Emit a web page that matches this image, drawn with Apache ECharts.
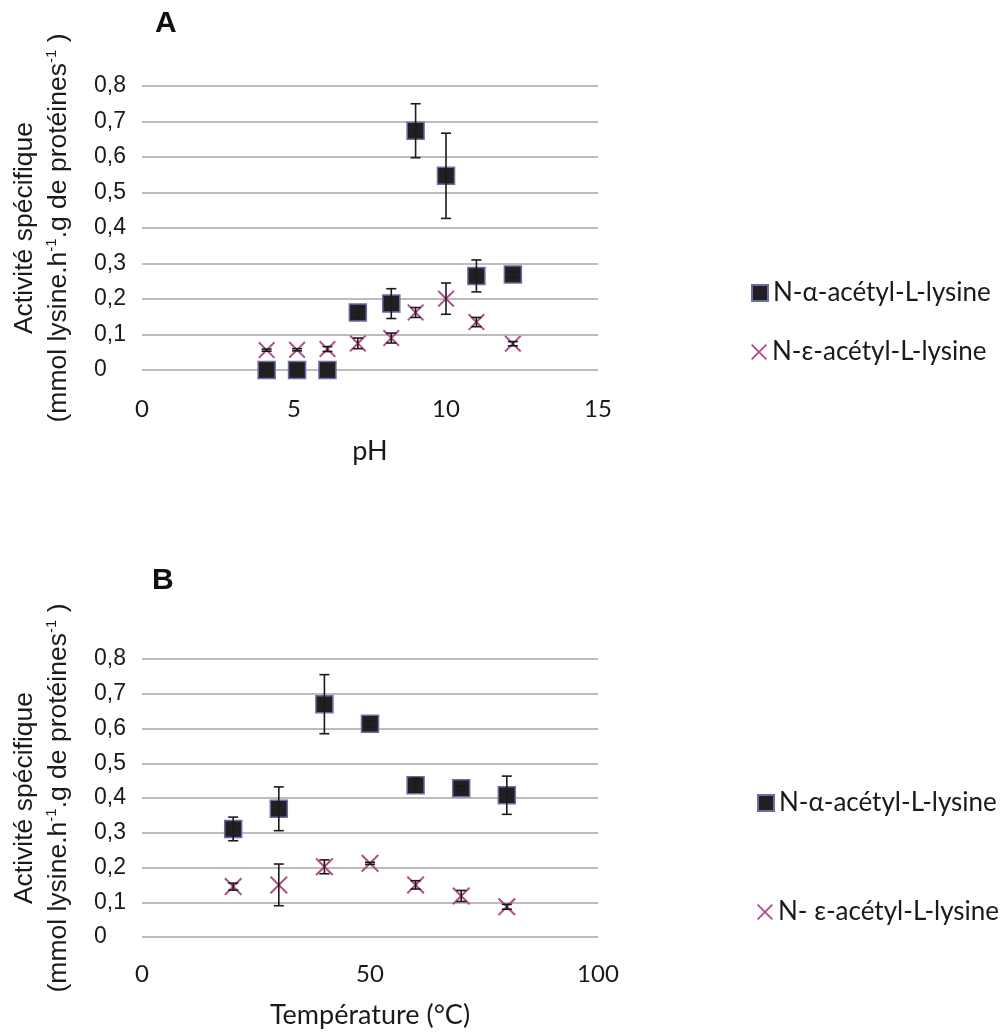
<!DOCTYPE html>
<html><head><meta charset="utf-8">
<script src="https://cdn.jsdelivr.net/npm/echarts@6/dist/echarts.min.js"></script>
<style>html,body{margin:0;padding:0;background:#fff}#c{width:1006px;height:1032px}</style>
</head><body><div id="c"></div>
<script>
// Panel A : pH
const phValues   = [4.1, 5.1, 6.1, 7.1, 8.2, 9.0, 10.0, 11.0, 12.2];
const alphaPH    = [0, 0, 0, 0.162, 0.187, 0.674, 0.547, 0.265, 0.269];
const alphaPHErr = [0, 0, 0, 0.014, 0.042, 0.076, 0.12, 0.045, 0.007];
const epsPH      = [0.056, 0.057, 0.059, 0.075, 0.09, 0.162, 0.201, 0.135, 0.074];
const epsPHErr   = [0.003, 0.003, 0.007, 0.015, 0.014, 0.014, 0.044, 0.013, 0.006];
// Panel B : Température
const tempValues = [20, 30, 40, 50, 60, 70, 80];
const alphaT     = [0.311, 0.369, 0.670, 0.614, 0.437, 0.428, 0.408];
const alphaTErr  = [0.034, 0.063, 0.085, 0.009, 0.02, 0.007, 0.055];
const epsT       = [0.145, 0.150, 0.202, 0.212, 0.150, 0.118, 0.087];
const epsTErr    = [0.01, 0.06, 0.02, 0.003, 0.012, 0.016, 0.007];
// Axis ticks
const yTicks = { min: 0, max: 0.8, interval: 0.1 };
const xTicksA = { min: 0, max: 15, interval: 5 };
const xTicksB = { min: 0, max: 100, interval: 50 };
// Names
const nameAlpha = 'N-α-acétyl-L-lysine';
const nameEpsA = 'N-ε-acétyl-L-lysine';
const nameEpsB = 'N- ε-acétyl-L-lysine';

const crossPath = 'path://M0,0.8L0.8,0L5,4.2L9.2,0L10,0.8L5.8,5L10,9.2L9.2,10L5,5.8L0.8,10L0,9.2L4.2,5Z';
const sqStyle = { color: '#231f20', borderColor: '#6a6ea8', borderWidth: 1.5, opacity: 1 };
const xStyle = { color: '#b04c86', opacity: 1 };

function pts(xs, ys) { return xs.map((x, i) => [x, ys[i]]); }
function errs(xs, ys, es) {
  return xs.map((x, i) => [x, ys[i] - es[i], ys[i] + es[i]]).filter(d => d[2] > d[1]);
}
function errRender(params, api) {
  const x = api.value(0), lo = api.value(1), hi = api.value(2);
  const p1 = api.coord([x, hi]), p2 = api.coord([x, lo]);
  const w = 5;
  const st = { stroke: '#1a1a1a', lineWidth: 1.6 };
  return { type: 'group', children: [
    { type: 'line', shape: { x1: p1[0], y1: p1[1], x2: p2[0], y2: p2[1] }, style: st },
    { type: 'line', shape: { x1: p1[0] - w, y1: p1[1], x2: p1[0] + w, y2: p1[1] }, style: st },
    { type: 'line', shape: { x1: p2[0] - w, y1: p2[1], x2: p2[0] + w, y2: p2[1] }, style: st }
  ]};
}

const yName = 'Activité spécifique\n(mmol lysine.h{sup|-1}.g de protéines{sup|-1} )';
function yAxis(idx) {
  return {
    type: 'value', gridIndex: idx, min: yTicks.min, max: yTicks.max, interval: yTicks.interval,
    axisLine: { show: false }, axisTick: { show: false },
    splitLine: { show: true, lineStyle: { color: '#a6a6a6', width: 1.5 } },
    axisLabel: {
      align: 'left', margin: 48, fontFamily: 'Liberation Sans', fontSize: 23, color: '#1a1a1a',
      formatter: v => v === 0 ? '0' : v.toFixed(1).replace('.', ',')
    },
    name: yName, nameLocation: 'middle', nameRotate: 90, nameGap: 66,
    nameTextStyle: {
      fontFamily: 'Liberation Sans', fontSize: 26.5, color: '#1a1a1a', lineHeight: 34,
      rich: { sup: { fontFamily: 'Liberation Sans', fontSize: 15, verticalAlign: 'top', lineHeight: 34, color: '#1a1a1a', padding: [2, 0, 0, 0] } }
    }
  };
}
function xAxis(idx, t, name, gap, margin) {
  return {
    type: 'value', gridIndex: idx, min: t.min, max: t.max, interval: t.interval,
    axisLine: { show: false }, axisTick: { show: false }, splitLine: { show: false },
    axisLabel: { fontFamily: 'Lato', fontSize: 24, color: '#1a1a1a', margin: margin },
    name: name, nameLocation: 'middle', nameGap: gap,
    nameTextStyle: { fontFamily: 'Lato', fontSize: 27, color: '#1a1a1a' }
  };
}
const legText = { fontFamily: 'Lato', fontSize: 26, color: '#1a1a1a', lineHeight: 26 };
function leg(name, left, top) {
  return { data: [name], orient: 'vertical', left: left, top: top, padding: 0,
    itemWidth: 16, itemHeight: 16, textStyle: legText, selectedMode: false };
}

const chart = echarts.init(document.getElementById('c'));
chart.setOption({
  animation: false,
  backgroundColor: '#fff',
  title: [
    { text: 'A', left: 155, top: 9, padding: 0, textStyle: { fontFamily: 'Liberation Sans', fontWeight: 'bold', fontSize: 30, color: '#111' } },
    { text: 'B', left: 152, top: 566, padding: 0, textStyle: { fontFamily: 'Liberation Sans', fontWeight: 'bold', fontSize: 30, color: '#111' } }
  ],
  grid: [
    { left: 142, right: 408, top: 86, bottom: 662 },
    { left: 142, right: 408, top: 659, bottom: 95 }
  ],
  xAxis: [ xAxis(0, xTicksA, 'pH', 68, 27), xAxis(1, xTicksB, 'Température (°C)', 65, 25) ],
  yAxis: [ yAxis(0), yAxis(1) ],
  legend: [
    leg(nameAlpha, 751, 280),
    leg(nameEpsA, 751, 339),
    leg(nameAlpha, 757, 790),
    leg(nameEpsB, 757, 899)
  ],
  series: [
    { name: nameAlpha, type: 'scatter', xAxisIndex: 0, yAxisIndex: 0, symbol: 'rect', symbolSize: 17, itemStyle: sqStyle, data: pts(phValues, alphaPH), z: 2 },
    { name: nameEpsA, type: 'scatter', xAxisIndex: 0, yAxisIndex: 0, symbol: crossPath, symbolSize: 17, itemStyle: xStyle, data: pts(phValues, epsPH), z: 2 },
    { type: 'custom', xAxisIndex: 0, yAxisIndex: 0, renderItem: errRender, encode: { x: 0, y: [1, 2] }, data: errs(phValues, alphaPH, alphaPHErr), z: 3 },
    { type: 'custom', xAxisIndex: 0, yAxisIndex: 0, renderItem: errRender, encode: { x: 0, y: [1, 2] }, data: errs(phValues, epsPH, epsPHErr), z: 3 },
    { name: nameAlpha, type: 'scatter', xAxisIndex: 1, yAxisIndex: 1, symbol: 'rect', symbolSize: 17, itemStyle: sqStyle, data: pts(tempValues, alphaT), z: 2 },
    { name: nameEpsB, type: 'scatter', xAxisIndex: 1, yAxisIndex: 1, symbol: crossPath, symbolSize: 18, itemStyle: xStyle, data: pts(tempValues, epsT), z: 2 },
    { type: 'custom', xAxisIndex: 1, yAxisIndex: 1, renderItem: errRender, encode: { x: 0, y: [1, 2] }, data: errs(tempValues, alphaT, alphaTErr), z: 3 },
    { type: 'custom', xAxisIndex: 1, yAxisIndex: 1, renderItem: errRender, encode: { x: 0, y: [1, 2] }, data: errs(tempValues, epsT, epsTErr), z: 3 }
  ]
});
</script>
</body></html>
